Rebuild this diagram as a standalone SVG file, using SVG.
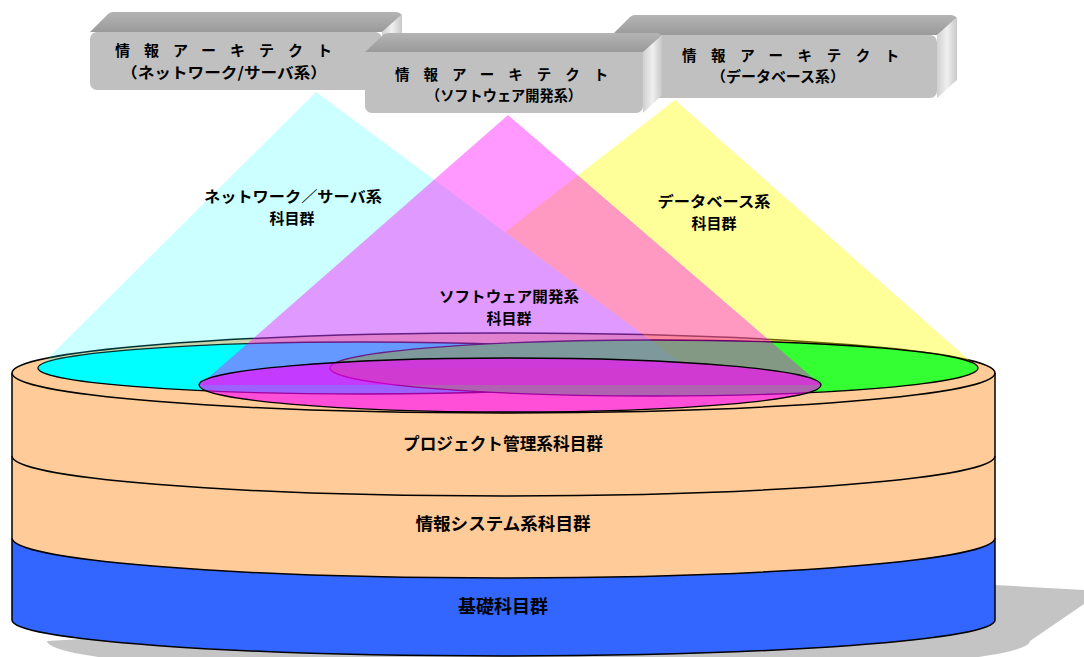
<svg xmlns="http://www.w3.org/2000/svg" width="1084" height="657" viewBox="0 0 1084 657">
<defs>
<style>
.t{font-family:"Noto Sans CJK JP","Noto Sans CJK SC",sans-serif;font-weight:bold;fill:#000;text-anchor:middle}
.bt{font-family:"Noto Sans CJK JP","Noto Sans CJK SC",sans-serif;font-weight:bold;fill:#000}
.edge{fill:none;stroke:#000;stroke-width:1.5}
.front{fill:#C0C0C0}
.topf{fill:url(#gTop)}
.side{fill:url(#gSide)}
</style>
<linearGradient id="gTop" x1="0" y1="0" x2="0" y2="1">
<stop offset="0" stop-color="#B4B4B4"/>
<stop offset="1" stop-color="#9A9A9A"/>
</linearGradient>
<linearGradient id="gSide" x1="0" y1="0" x2="1" y2="0">
<stop offset="0" stop-color="#D0D0D0"/>
<stop offset="0.5" stop-color="#F0F0F0"/>
<stop offset="1" stop-color="#C8C8C8"/>
</linearGradient>
</defs>
<rect width="1084" height="657" fill="#fff"/>

<g id="shadow">
<path d="M995 585 L1084 590 L1084 604 L1030 641 A491.5 36 0 0 1 47 641 Z" fill="#C4C4C4"/>
</g>

<g id="cylinder">
<path d="M12 373 L12 620 A491.5 36 0 0 0 995 620 L995 373 Z" fill="#FFCC99"/>
<path d="M12 538 A491.5 40 0 0 0 995 538 L995 620 A491.5 36 0 0 1 12 620 Z" fill="#3366FF"/>
<path class="edge" d="M12 373 L12 620 A491.5 36 0 0 0 995 620 L995 373"/>
<path class="edge" d="M12 456 A491.5 40 0 0 0 995 456"/>
<path class="edge" d="M12 538 A491.5 40 0 0 0 995 538"/>
<ellipse cx="503.5" cy="373" rx="491.5" ry="40" fill="#FFCC99" stroke="#000" stroke-width="1.5"/>
</g>

<g id="layers">
<polygon points="675,100 505,232 688,368 978,368" fill="#FFFF00" fill-opacity="0.4"/>
<ellipse cx="363" cy="368" rx="325" ry="26" fill="#00FFFF" stroke="#000" stroke-width="1.3"/>
<ellipse cx="654" cy="368" rx="324" ry="28" fill="#33FF33" stroke="#000" stroke-width="1.3"/>
<polygon points="316,92 38,368 688,368" fill="#00FFFF" fill-opacity="0.2"/>
<polygon points="508,115 200,385 821,385" fill="#FF00FF" fill-opacity="0.4"/>
<ellipse cx="510" cy="385" rx="311" ry="27" fill="#FF00FF" fill-opacity="0.62" stroke="#000" stroke-width="1.3"/>
</g>

<g id="labels">
<text class="t" x="293" y="202" font-size="15" textLength="178" lengthAdjust="spacingAndGlyphs">ネットワーク／サーバ系</text>
<text class="t" x="292" y="224" font-size="15">科目群</text>
<text class="t" x="509" y="302" font-size="15" textLength="140" lengthAdjust="spacingAndGlyphs">ソフトウェア開発系</text>
<text class="t" x="509" y="324" font-size="15">科目群</text>
<text class="t" x="714" y="207" font-size="15" textLength="113" lengthAdjust="spacingAndGlyphs">データベース系</text>
<text class="t" x="714" y="229" font-size="15">科目群</text>
<text class="t" x="503" y="450" font-size="17" textLength="200" lengthAdjust="spacingAndGlyphs">プロジェクト管理系科目群</text>
<text class="t" x="503" y="530" font-size="17" textLength="175" lengthAdjust="spacingAndGlyphs">情報システム系科目群</text>
<text class="t" x="503" y="613" font-size="18">基礎科目群</text>
</g>

<g id="box-network">
<path class="topf" d="M90 32 L108 14 Q110 12 113 12 L396 12 Q402 12 402 18 L382 32 Z"/>
<path class="side" d="M382 32 L402 14 L402 70 L382 90 Z"/>
<rect class="front" x="90" y="32" width="292" height="58" rx="7"/>
<text class="bt" x="115" y="56" font-size="15" letter-spacing="14">情報アーキテクト</text>
<text class="t" x="224" y="78" font-size="15" textLength="206" lengthAdjust="spacingAndGlyphs">（ネットワーク/サーバ系）</text>
</g>

<g id="box-database">
<path class="topf" d="M612 35 L630 17 Q632 15 635 15 L951 15 Q957 15 957 21 L937 35 Z"/>
<path class="side" d="M937 35 L957 17 L957 80 L937 98 Z"/>
<rect class="front" x="612" y="35" width="325" height="63" rx="7"/>
<text class="bt" x="682" y="61" font-size="14.5" letter-spacing="14.6">情報アーキテクト</text>
<text class="t" x="778" y="82" font-size="14.5" textLength="134" lengthAdjust="spacingAndGlyphs">（データベース系）</text>
</g>

<g id="box-software">
<path class="topf" d="M365 52 L383 35 Q385 33 388 33 L656 33 Q662 33 662 39 L643 52 Z"/>
<path class="side" d="M643 52 L662 35 L662 95 L643 113 Z"/>
<rect class="front" x="365" y="52" width="278" height="61" rx="7"/>
<text class="bt" x="395" y="80" font-size="14.5" letter-spacing="14">情報アーキテクト</text>
<text class="t" x="504" y="101" font-size="14.5" textLength="156" lengthAdjust="spacingAndGlyphs">（ソフトウェア開発系）</text>
</g>
</svg>
